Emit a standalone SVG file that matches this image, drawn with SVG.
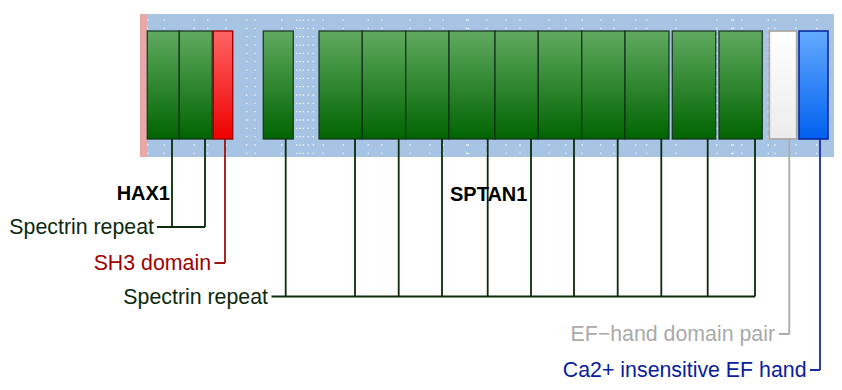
<svg xmlns="http://www.w3.org/2000/svg" width="842" height="390" viewBox="0 0 842 390">
<style>
.dot{stroke:#ffffff;stroke-opacity:0.85;stroke-width:1.3;stroke-dasharray:1.3 7.03;fill:none}
.g{fill:url(#gg);stroke:#12301a;stroke-opacity:0.85;stroke-width:1.4}
.r{fill:url(#gr);stroke:#a00000;stroke-width:1.4}
.w{fill:url(#gw);stroke:#aaaaaa;stroke-width:1.8}
.b{fill:url(#gb);stroke:#0a2aa0;stroke-width:1.6}
.lg{stroke:#0c2a0c;stroke-width:1.8;fill:none}
.lr{stroke:#a01010;stroke-width:1.8;fill:none}
.lw{stroke:#aaaaaa;stroke-width:1.8;fill:none}
.lb{stroke:#1a2aaa;stroke-width:1.8;fill:none}
.t{font-family:"Liberation Sans",Arial,sans-serif;font-size:21.33px}
.tb{font-family:"Liberation Sans",Arial,sans-serif;font-size:20px;font-weight:bold;fill:#000}
</style>
<defs>
<linearGradient id="gg" x1="0" y1="0" x2="0" y2="1"><stop offset="0" stop-color="#60aa60"/><stop offset="1" stop-color="#006400"/></linearGradient>
<linearGradient id="gr" x1="0" y1="0" x2="0" y2="1"><stop offset="0" stop-color="#ff6464"/><stop offset="1" stop-color="#ee0000"/></linearGradient>
<linearGradient id="gw" x1="0" y1="0" x2="0" y2="1"><stop offset="0" stop-color="#ffffff"/><stop offset="1" stop-color="#ececec"/></linearGradient>
<linearGradient id="gb" x1="0" y1="0" x2="0" y2="1"><stop offset="0" stop-color="#64aaff"/><stop offset="1" stop-color="#0060ee"/></linearGradient>
</defs>
<g id="background">
<rect x="140" y="14" width="694" height="143" fill="#a8c4e4"/>
<rect x="140" y="14" width="7.3" height="143" fill="#e8a8a8"/>
<path class="dot" d="M147.7 19.4V154M164.3 19.4V154M194.3 19.4V154M207.7 19.4V154M226 19.4V154M246.7 19.4V154M255 19.4V154M281.7 19.4V154M296.7 19.4V154M300 19.4V154M303.3 19.4V154M308.3 19.4V154M313.3 19.4V154M323.3 19.4V154M343.3 19.4V154M368.3 19.4V154M381.7 19.4V154M410 19.4V154M430 19.4V154M443.3 19.4V154M466.7 19.4V154M468.3 19.4V154M486.7 19.4V154M506 19.4V154M520 19.4V154M549 19.4V154M565.7 19.4V154M582.3 19.4V154M600.7 19.4V154M614 19.4V154M635.7 19.4V154M646.7 19.4V154M676 19.4V154M716.7 19.4V154M731.7 19.4V154M733.3 19.4V154M741.7 19.4V154M768.3 19.4V154M775 19.4V154M796 19.4V154M816.7 19.4V154"/>
</g>
<g id="connectors">
<path class="lg" d="M172 139V227M205 139V227M157 227H205"/>
<path class="lr" d="M225 139V263M214.5 263H225"/>
<path class="lg" d="M285.7 139V296.5M355 139V296.5M398.7 139V296.5M442 139V296.5M487.7 139V296.5M531 139V296.5M574 139V296.5M617.7 139V296.5M661.3 139V296.5M707.7 139V296.5M755 139V296.5M271.5 296.5H755"/>
<path class="lw" d="M789.3 139V334M779 334H789.3"/>
<path class="lb" d="M820 139V370M810 370H820"/>
</g>
<g id="HAX1">
<rect id="hax1-spectrin-1" class="g" x="147.3" y="31" width="32" height="108"/>
<rect id="hax1-spectrin-2" class="g" x="179.3" y="31" width="33" height="108"/>
<rect id="hax1-sh3" class="r" x="213.3" y="31" width="19.4" height="108"/>
<text class="tb" x="170" y="200" text-anchor="end">HAX1</text>
</g>
<g id="SPTAN1">
<rect class="g" x="263.3" y="31" width="30" height="108"/>
<rect class="g" x="319" y="31" width="43.3" height="108"/>
<rect class="g" x="362.3" y="31" width="43.4" height="108"/>
<rect class="g" x="405.7" y="31" width="43.3" height="108"/>
<rect class="g" x="449" y="31" width="46" height="108"/>
<rect class="g" x="495" y="31" width="43.3" height="108"/>
<rect class="g" x="538.3" y="31" width="43.4" height="108"/>
<rect class="g" x="581.7" y="31" width="43.3" height="108"/>
<rect class="g" x="625" y="31" width="44" height="108"/>
<rect class="g" x="672.3" y="31" width="43.4" height="108"/>
<rect class="g" x="719" y="31" width="43.3" height="108"/>
<rect id="ef-pair" class="w" x="769.3" y="31" width="27.4" height="108"/>
<rect id="ef-ca" class="b" x="799" y="31" width="29" height="108"/>
<text class="tb" x="450" y="200.5">SPTAN1</text>
</g>
<g id="labels">
<text class="t" x="154" y="234" text-anchor="end" fill="#0c2a0c">Spectrin repeat</text>
<text class="t" x="211" y="270" text-anchor="end" fill="#a00000">SH3 domain</text>
<text class="t" x="268" y="303.5" text-anchor="end" fill="#0c2a0c">Spectrin repeat</text>
<text class="t" x="775" y="341" text-anchor="end" fill="#aaaaaa">EF−hand domain pair</text>
<text class="t" x="806.5" y="377" text-anchor="end" fill="#0a20a0">Ca2+ insensitive EF hand</text>
</g>
</svg>
